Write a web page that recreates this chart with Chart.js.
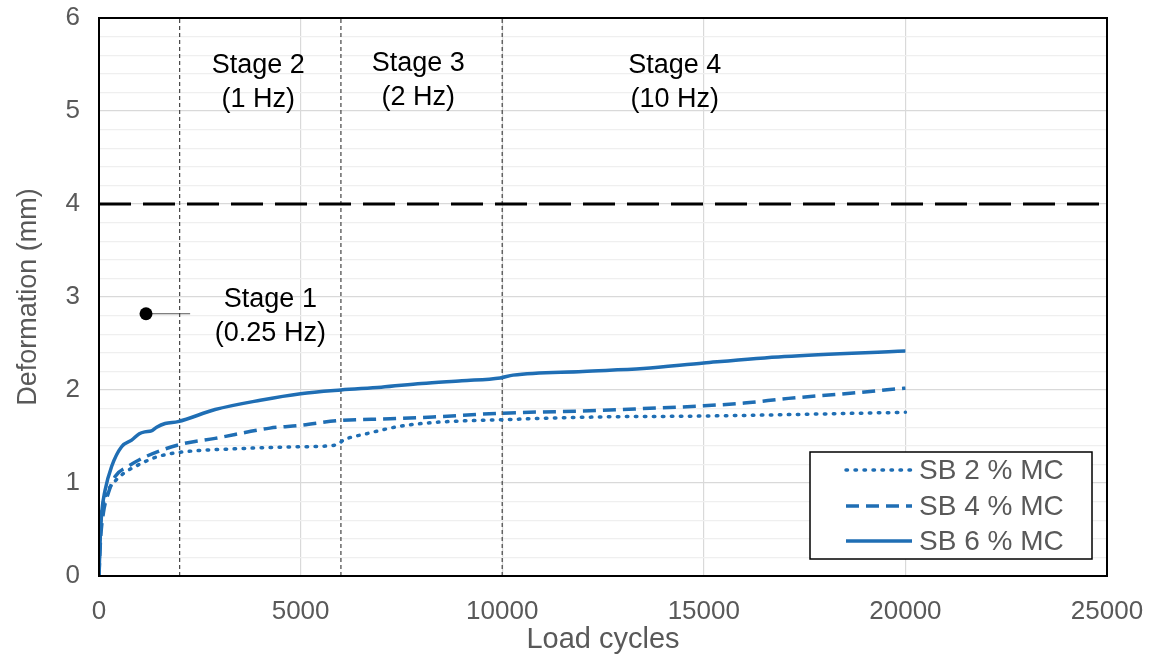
<!DOCTYPE html>
<html>
<head>
<meta charset="utf-8">
<script src="https://cdn.jsdelivr.net/npm/chart.js@4.4.1/dist/chart.umd.min.js"></script>
<style>
  html, body { margin: 0; padding: 0; background: #fff; }
  #wrap { width: 1153px; height: 657px; }
</style>
</head>
<body>
<div id="wrap"><canvas id="c" width="1153" height="657"></canvas></div>
<script>
// Deformation vs. load cycles for three moisture contents
const cycles2 = [0, 30, 100, 190, 400, 600, 1000, 1430, 2010, 3500, 5000, 5900, 6060, 6640, 7465, 8280, 9950, 12400, 15000, 20000];
const sb2 = [0, 0.50, 0.75, 0.89, 1.02, 1.10, 1.20, 1.28, 1.33, 1.37, 1.39, 1.41, 1.46, 1.53, 1.61, 1.65, 1.68, 1.71, 1.72, 1.76];

const cycles4 = [0, 40, 110, 230, 400, 730, 1140, 1970, 2880, 4240, 5000, 5930, 7220, 8280, 9950, 12400, 13500, 15000, 16000, 17100, 18500, 20000];
const sb4 = [0, 0.40, 0.68, 0.89, 1.07, 1.18, 1.28, 1.41, 1.48, 1.59, 1.62, 1.67, 1.69, 1.71, 1.75, 1.78, 1.80, 1.83, 1.86, 1.91, 1.96, 2.02];

const cycles6 = [0, 30, 67, 150, 315, 560, 810, 1000, 1140, 1300, 1430, 1640, 1960, 2880, 4000, 5000, 6000, 7000, 8000, 9000, 9950, 10270, 12000, 13500, 15000, 17000, 20000];
const sb6 = [0, 0.40, 0.68, 0.92, 1.18, 1.39, 1.46, 1.53, 1.55, 1.56, 1.60, 1.64, 1.66, 1.79, 1.89, 1.96, 2.00, 2.03, 2.07, 2.10, 2.13, 2.16, 2.20, 2.23, 2.29, 2.36, 2.42];

const seriesLabels = ['SB 2 % MC', 'SB 4 % MC', 'SB 6 % MC'];

// Stage boundaries (load cycles) and the deformation limit
const stageBounds = [2000, 6000, 10000];
const limitDeformation = 4;

// Stage labels: [text line 1, text line 2, x, y1, y2]
const stageText = [
  ['Stage 1', '(0.25 Hz)', 4250, 2.97, 2.61],
  ['Stage 2', '(1 Hz)', 3950, 5.49, 5.12],
  ['Stage 3', '(2 Hz)', 7920, 5.51, 5.15],
  ['Stage 4', '(10 Hz)', 14280, 5.49, 5.12]
];
const stage1Marker = { x: 1166, y: 2.82, leaderEnd: 2260 };

const xTicks = [0, 5000, 10000, 15000, 20000, 25000];
const yTicks = [0, 1, 2, 3, 4, 5, 6];

const BLUE = '#1F6EB4';
const FONT = "'Liberation Sans', Arial, sans-serif";

const pts = (xs, ys) => xs.map((x, i) => ({ x, y: ys[i] }));

const datasets = [
  { label: seriesLabels[0], data: pts(cycles2, sb2), borderColor: BLUE, borderWidth: 3.5,
    borderDash: [1.5, 7.5], borderCapStyle: 'round', pointRadius: 0, showLine: true, cubicInterpolationMode: 'monotone', isSeries: true },
  { label: seriesLabels[1], data: pts(cycles4, sb4), borderColor: BLUE, borderWidth: 3.5,
    borderDash: [13, 7], borderCapStyle: 'butt', pointRadius: 0, showLine: true, cubicInterpolationMode: 'monotone', isSeries: true },
  { label: seriesLabels[2], data: pts(cycles6, sb6), borderColor: BLUE, borderWidth: 3.5,
    borderDash: [], pointRadius: 0, showLine: true, cubicInterpolationMode: 'monotone', isSeries: true },
  { label: 'limit', data: [{ x: 0, y: limitDeformation }, { x: 25000, y: limitDeformation }],
    borderColor: '#000', borderWidth: 3, borderDash: [32, 12], pointRadius: 0, showLine: true }
];
stageBounds.forEach(b => datasets.push({
  label: 'stage', data: [{ x: b, y: 0 }, { x: b, y: 6 }], borderColor: '#444', borderWidth: 1.2,
  borderDash: [4, 3], pointRadius: 0, showLine: true
}));
datasets.push({
  label: 'leader', data: [{ x: stage1Marker.x, y: stage1Marker.y }, { x: stage1Marker.leaderEnd, y: stage1Marker.y }],
  borderColor: '#555', borderWidth: 1.2, pointRadius: [6.5, 0], pointBackgroundColor: '#000',
  pointBorderColor: '#000', pointBorderWidth: 0, showLine: true
});

const framePlugin = {
  id: 'frame',
  afterDatasetsDraw(chart) {
    const { ctx, chartArea: a, scales } = chart;
    ctx.save();
    // stage annotations
    ctx.fillStyle = '#000';
    ctx.font = `27px ${FONT}`;
    ctx.textAlign = 'center';
    ctx.textBaseline = 'middle';
    stageText.forEach(([t1, t2, x, y1, y2]) => {
      ctx.fillText(t1, scales.x.getPixelForValue(x), scales.y.getPixelForValue(y1));
      ctx.fillText(t2, scales.x.getPixelForValue(x), scales.y.getPixelForValue(y2));
    });
    // plot frame
    ctx.strokeStyle = '#000';
    ctx.lineWidth = 2;
    ctx.strokeRect(a.left, a.top, a.right - a.left, a.bottom - a.top);
    // legend
    const bx = 810, by = 452, bw = 282, bh = 107;
    ctx.fillStyle = '#fff';
    ctx.fillRect(bx, by, bw, bh);
    ctx.lineWidth = 1.5;
    ctx.strokeRect(bx, by, bw, bh);
    const rows = [470, 506, 541];
    ctx.font = `28px ${FONT}`;
    ctx.textAlign = 'left';
    chart.data.datasets.filter(d => d.isSeries).forEach((d, i) => {
      ctx.beginPath();
      ctx.strokeStyle = d.borderColor;
      ctx.lineWidth = d.borderWidth;
      ctx.setLineDash(d.borderDash);
      ctx.lineCap = d.borderCapStyle || 'butt';
      ctx.moveTo(846, rows[i]);
      ctx.lineTo(912, rows[i]);
      ctx.stroke();
      ctx.setLineDash([]);
      ctx.fillStyle = '#595959';
      ctx.fillText(d.label, 919, rows[i] + 1);
    });
    ctx.restore();
  }
};

const noPad = s => { s.paddingTop = 0; s.paddingBottom = 0; s.paddingLeft = 0; s.paddingRight = 0; };

new Chart(document.getElementById('c'), {
  type: 'scatter',
  data: { datasets },
  options: {
    responsive: false,
    animation: false,
    layout: { padding: { left: 0, right: 46, top: 18, bottom: 0 } },
    plugins: { legend: { display: false }, tooltip: { enabled: false } },
    scales: {
      x: {
        type: 'linear', min: 0, max: 25000,
        afterBuildTicks: s => { s.ticks = xTicks.map(v => ({ value: v })); },
        afterFit: s => { s.height = 81; noPad(s); },
        grid: { color: '#d9d9d9', lineWidth: 1.2, drawTicks: false },
        border: { display: false },
        ticks: { color: '#595959', font: { family: FONT, size: 26 }, padding: 20, maxRotation: 0,
          callback: v => String(v) },
        title: { display: true, text: 'Load cycles', color: '#595959', font: { family: FONT, size: 29 }, padding: { top: -6, bottom: 0 } }
      },
      y: {
        type: 'linear', min: 0, max: 6,
        afterBuildTicks: s => {
          const t = [];
          for (let i = 0; i <= 30; i++) t.push({ value: i / 5 });
          s.ticks = t;
        },
        afterFit: s => { s.width = 99; noPad(s); },
        grid: {
          drawTicks: false, lineWidth: 1.2,
          color: c => (Math.abs(c.tick.value - Math.round(c.tick.value)) < 1e-6 ? '#d9d9d9' : '#efefef')
        },
        border: { display: false },
        ticks: {
          color: '#595959', font: { family: FONT, size: 26 }, padding: 19, autoSkip: false,
          callback: v => (yTicks.includes(Math.round(v * 1000) / 1000) ? String(Math.round(v)) : '')
        },
        title: { display: true, text: 'Deformation (mm)', color: '#595959', font: { family: FONT, size: 27 }, padding: { top: 12, bottom: 0 } }
      }
    }
  },
  plugins: [framePlugin]
});
</script>
</body>
</html>
